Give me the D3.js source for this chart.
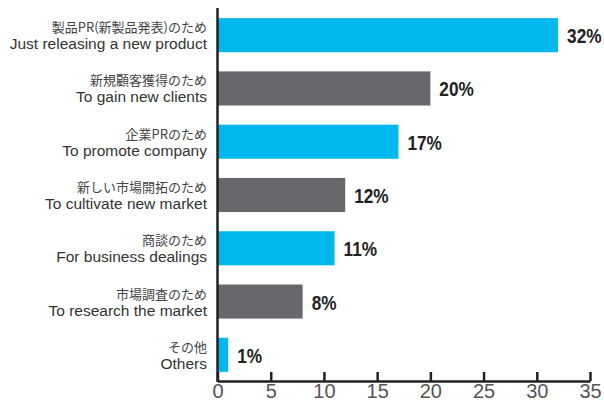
<!DOCTYPE html>
<html>
<head>
<meta charset="utf-8">
<script src="https://cdn.jsdelivr.net/npm/d3@7"></script>
<style>
  body { margin: 0; background: #fff; }
</style>
</head>
<body>
<script>
	var labelsJa = ['製品PR(新製品発表)のため', '新規顧客獲得のため', '企業PRのため', '新しい市場開拓のため', '商談のため', '市場調査のため', 'その他'];
	var labelsEn = ['Just releasing a new product', 'To gain new clients', 'To promote company', 'To cultivate new market', 'For business dealings', 'To research the market', 'Others'];
	var values = [32, 20, 17, 12, 11, 8, 1];
	var tickValues = [0, 5, 10, 15, 20, 25, 30, 35];

	var width = 604, height = 401;
	var x0 = 217.5, x1 = 590, yTop = 8, yBottom = 381;

	var svg = d3.select('body').append('svg')
		.attr('width', width)
		.attr('height', height);

	var x = d3.scaleLinear().domain([0, 35]).range([x0, x1]);
	var y = d3.scaleBand()
		.domain(d3.range(values.length))
		.range([yTop, yBottom + 1])
		.paddingInner(0.36)
		.paddingOuter(0.19);

	var color = function(i) {
		return i % 2 === 0 ? '#00b8ee' : '#68686c';
	};

	// bars
	svg.selectAll('rect.bar')
		.data(values)
		.enter().append('rect')
		.attr('class', 'bar')
		.attr('x', x(0))
		.attr('y', function(d, i) { return y(i); })
		.attr('width', function(d) { return x(d) - x(0); })
		.attr('height', y.bandwidth())
		.attr('fill', function(d, i) { return color(i); });

	// value labels (condensed bold)
	svg.selectAll('text.val')
		.data(values)
		.enter().append('text')
		.attr('class', 'val')
		.attr('transform', function(d, i) {
			return 'translate(' + (x(d) + 9) + ',' + (y(i) + y.bandwidth() / 2 + 8) + ') scale(0.82,1)';
		})
		.style('font-family', '"Liberation Sans", Arial, sans-serif')
		.style('font-weight', 'bold')
		.style('font-size', '21px')
		.style('fill', '#222')
		.text(function(d) { return d + '%'; });

	// category labels
	var cat = svg.selectAll('g.cat')
		.data(values)
		.enter().append('g')
		.attr('class', 'cat')
		.attr('transform', function(d, i) {
			return 'translate(' + 207 + ',' + (y(i) + y.bandwidth() / 2) + ')';
		});

	cat.append('text')
		.attr('text-anchor', 'end')
		.attr('y', -3)
		.style('font-family', '"Noto Sans CJK JP", sans-serif')
		.style('font-size', '13px')
		.style('fill', '#444')
		.text(function(d, i) { return labelsJa[i]; });

	cat.append('text')
		.attr('text-anchor', 'end')
		.attr('y', 14)
		.style('font-family', '"Liberation Sans", Arial, sans-serif')
		.style('font-size', '15.5px')
		.style('fill', '#333')
		.text(function(d, i) { return labelsEn[i]; });

	// x axis
	var xAxis = d3.axisBottom(x)
		.tickValues(tickValues)
		.tickSizeInner(-9)
		.tickSizeOuter(0)
		.tickPadding(3);

	var gx = svg.append('g')
		.attr('transform', 'translate(0,' + yBottom + ')')
		.call(xAxis);

	gx.select('.domain').attr('stroke', '#222').attr('stroke-width', 2.5);
	gx.selectAll('.tick line').attr('stroke', '#222').attr('stroke-width', 2.5);
	gx.selectAll('.tick text')
		.style('font-family', '"Liberation Sans", Arial, sans-serif')
		.style('font-size', '20px')
		.style('fill', '#555');

	// y axis line
	svg.append('line')
		.attr('x1', x(0)).attr('x2', x(0))
		.attr('y1', yTop).attr('y2', yBottom + 1)
		.attr('stroke', '#222')
		.attr('stroke-width', 2.5);
</script>
</body>
</html>
